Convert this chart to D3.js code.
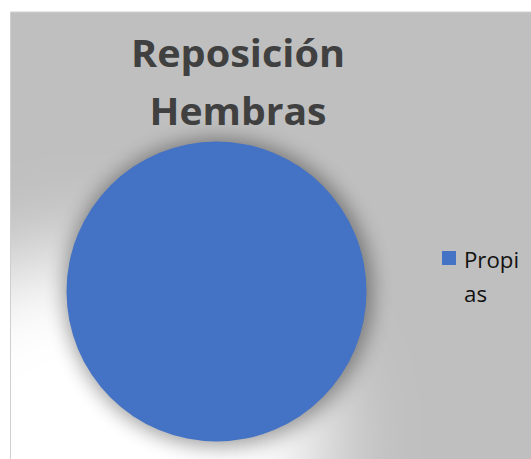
<!DOCTYPE html>
<meta charset="utf-8">
<style>
  body { margin: 0; background: #fff; }
  #title_text { font-family: "Open Sans", sans-serif; font-weight: bold; fill: #404040; }
  #legend_text { font-family: "Open Sans", sans-serif; fill: #111; }
</style>
<body>
<script src="https://d3js.org/d3.v7.min.js"></script>
<script>

var categories = ["Propias"];
var values = [100];
var colors = ["#4472c4"];
var titleLines = ["Reposición", "Hembras"];

var width = 531;
var height = 459;

var svg = d3.select("body")
  .append("svg")
  .attr("width", width)
  .attr("height", height);

var defs = svg.append("defs");

defs.append("clipPath").attr("id", "chart_clip")
  .append("rect")
  .attr("x", 10).attr("y", 12)
  .attr("width", width - 10).attr("height", height - 12);

defs.append("filter").attr("id", "glow")
  .attr("x", "-50%").attr("y", "-50%").attr("width", "200%").attr("height", "200%")
  .append("feGaussianBlur").attr("stdDeviation", 45);

defs.append("filter").attr("id", "shade")
  .attr("x", "-30%").attr("y", "-30%").attr("width", "160%").attr("height", "160%")
  .append("feGaussianBlur").attr("stdDeviation", 10);

// chart area
svg.append("rect")
  .attr("x", 10.5).attr("y", 12)
  .attr("width", width).attr("height", height)
  .attr("fill", "#bfbfbf")
  .attr("stroke", "#cfcfcf");

var cx = 216.5, cy = 291.5, r = 150;

var bg = svg.append("g").attr("clip-path", "url(#chart_clip)");

// light patch to the lower left of the pie
bg.append("ellipse")
  .attr("cx", cx - 120).attr("cy", cy + 150)
  .attr("rx", 230).attr("ry", 190)
  .attr("fill", "#fff")
  .attr("filter", "url(#glow)");

// soft shadow round the pie
bg.append("circle")
  .attr("cx", cx + 2).attr("cy", cy + 1)
  .attr("r", r + 4)
  .attr("fill", "#000")
  .attr("opacity", 0.38)
  .attr("filter", "url(#shade)");

// redraw the left border over the glow
svg.append("line")
  .attr("x1", 10.5).attr("x2", 10.5)
  .attr("y1", 12).attr("y2", height)
  .attr("stroke", "#cfcfcf");

var pie = d3.pie().sort(null);
var arc = d3.arc().innerRadius(0).outerRadius(r);

svg.append("g")
  .attr("transform", "translate(" + cx + "," + cy + ")")
  .selectAll("path")
  .data(pie(values))
  .enter()
  .append("path")
    .attr("d", arc)
    .attr("fill", function (d, i) { return colors[i]; });

// title
var titleWidths = [214, 177];
svg.selectAll(".title")
  .data(titleLines)
  .enter()
  .append("text")
    .attr("id", "title_text")
    .attr("x", 238)
    .attr("y", function (d, i) { return 67 + i * 58; })
    .attr("text-anchor", "middle")
    .attr("font-size", 38)
    .attr("textLength", function (d, i) { return titleWidths[i]; })
    .attr("lengthAdjust", "spacingAndGlyphs")
    .text(function (d) { return d; });

// legend
var legend = svg.append("g");
legend.selectAll("rect")
  .data(categories)
  .enter()
  .append("rect")
    .attr("x", 442).attr("y", 251)
    .attr("width", 14).attr("height", 14)
    .attr("fill", function (d, i) { return colors[i]; });

// label wraps like the original: "Propi" / "as"
var parts = [categories[0].slice(0, 5), categories[0].slice(5)];
var partWidths = [55, 23];
legend.selectAll("text")
  .data(parts)
  .enter()
  .append("text")
    .attr("id", "legend_text")
    .attr("x", 464)
    .attr("y", function (d, i) { return 268 + i * 34; })
    .attr("font-size", 21)
    .attr("textLength", function (d, i) { return partWidths[i]; })
    .attr("lengthAdjust", "spacingAndGlyphs")
    .text(function (d) { return d; });

</script>
</body>
